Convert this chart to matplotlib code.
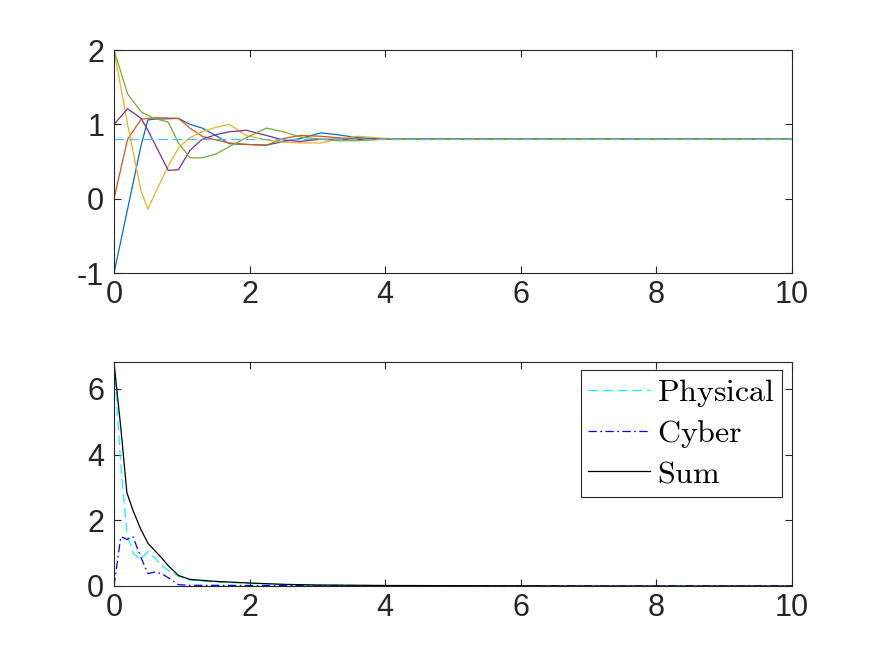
import matplotlib
matplotlib.use("Agg")
import matplotlib.pyplot as plt

# ---------------- data ----------------
# top panel: consensus trajectories of five agents
t_top = [0, 0.2, 0.4, 0.5, 0.6, 0.8, 0.95, 1.12, 1.3, 1.5, 1.7, 1.95, 2.25,
         2.5, 2.75, 3.05, 3.3, 3.6, 4.0, 4.5, 5, 6, 7, 8, 9, 10]
agent_blue = [-1, -0.14, 0.72, 1.06, 1.07, 1.075, 1.08, 1.0, 0.95, 0.85, 0.74,
              0.73, 0.72, 0.77, 0.81, 0.885, 0.86, 0.82, 0.80, 0.8, 0.8, 0.8,
              0.8, 0.8, 0.8, 0.8]
agent_red = [0, 0.8, 1.07, 1.08, 1.09, 1.085, 1.08, 0.95, 0.84, 0.79, 0.75,
             0.73, 0.72, 0.81, 0.85, 0.84, 0.82, 0.80, 0.80, 0.8, 0.8, 0.8,
             0.8, 0.8, 0.8, 0.8]
agent_yellow = [2, 1.0, 0.1, -0.14, 0.06, 0.44, 0.68, 0.82, 0.90, 0.96, 1.0,
                0.85, 0.79, 0.76, 0.75, 0.75, 0.80, 0.84, 0.81, 0.8, 0.8, 0.8,
                0.8, 0.8, 0.8, 0.8]
agent_purple = [1.0, 1.21, 1.08, 0.92, 0.74, 0.38, 0.39, 0.65, 0.80, 0.86, 0.90,
                0.92, 0.85, 0.79, 0.77, 0.80, 0.80, 0.80, 0.80, 0.8, 0.8, 0.8,
                0.8, 0.8, 0.8, 0.8]
agent_green = [2, 1.41, 1.17, 1.12, 1.08, 1.03, 0.75, 0.55, 0.55, 0.60, 0.70,
               0.82, 0.95, 0.90, 0.83, 0.80, 0.78, 0.78, 0.80, 0.8, 0.8, 0.8,
               0.8, 0.8, 0.8, 0.8]
consensus_value = 0.8

# bottom panel: energy-like quantities
t_bot = [0, 0.1, 0.19, 0.28, 0.39, 0.5, 0.6, 0.7, 0.8, 0.95, 1.12, 1.5, 2.0,
         2.5, 3.0, 4.0, 5, 6, 7, 8, 9, 10]
physical = [6.8, 3.7, 1.6, 1.0, 0.8, 1.05, 0.86, 0.62, 0.48, 0.30, 0.18, 0.12,
            0.08, 0.04, 0.025, 0.01, 0.005, 0, 0, 0, 0, 0]
cyber = [0, 1.5, 1.42, 1.5, 0.9, 0.38, 0.42, 0.38, 0.25, 0.04, 0.02, 0.02,
         0.015, 0.01, 0.005, 0, 0, 0, 0, 0, 0, 0]
total = [6.8, 4.82, 2.84, 2.3, 1.75, 1.3, 1.08, 0.86, 0.62, 0.32, 0.20, 0.14,
         0.09, 0.05, 0.03, 0.015, 0.01, 0.005, 0, 0, 0, 0]

legend_labels = ["Physical", "Cyber", "Sum"]
x_ticks = [0, 2, 4, 6, 8, 10]
y_ticks_top = [-1, 0, 1, 2]
y_ticks_bot = [0, 2, 4, 6]

# ---------------- style ----------------
plt.rcParams["font.family"] = ["Liberation Sans", "DejaVu Sans"]
plt.rcParams["mathtext.fontset"] = "cm"
plt.rcParams["lines.scale_dashes"] = False
plt.rcParams["axes.unicode_minus"] = False

axis_col = "#262626"
agent_colors = ["#0072BD", "#D95319", "#EDB120", "#7E2F8E", "#77AC30"]

fig = plt.figure(figsize=(8.75, 6.59), dpi=100)
ax1 = fig.add_axes([0.1303, 0.5857, 0.7749, 0.3384])
ax2 = fig.add_axes([0.1303, 0.1108, 0.7749, 0.3399])


def style_axes(ax):
    for sp in ax.spines.values():
        sp.set_color(axis_col)
        sp.set_linewidth(0.8)
    ax.tick_params(direction="in", length=5, width=0.8, colors=axis_col,
                   labelsize=22, top=True, right=True, pad=5)
    ax.tick_params(axis="y", pad=7)


lw = 0.9
for y, c in zip([agent_blue, agent_red, agent_yellow, agent_purple, agent_green],
                agent_colors):
    ax1.plot(t_top, y, color=c, lw=lw)
ax1.plot([0, 10], [consensus_value, consensus_value], color="#4DBEEE", lw=lw,
         dashes=(7, 3.5))
ax1.set_xlim(0, 10)
ax1.set_ylim(-1, 2)
ax1.set_xticks(x_ticks)
ax1.set_yticks(y_ticks_top)
style_axes(ax1)

h1, = ax2.plot(t_bot, physical, color=(0, 1, 1), lw=lw, dashes=(7, 3.5))
h2, = ax2.plot(t_bot, cyber, color=(0, 0, 1), lw=lw, dashes=(6, 2.5, 1.2, 2.5))
h3, = ax2.plot(t_bot, total, color="black", lw=lw)
ax2.set_xlim(0, 10)
ax2.set_ylim(0, 6.82)
ax2.set_xticks(x_ticks)
ax2.set_yticks(y_ticks_bot)
style_axes(ax2)

leg = ax2.legend([h1, h2, h3],
                 [r"$\mathrm{%s}$" % s for s in legend_labels],
                 loc="upper right", bbox_to_anchor=(0.985, 0.964),
                 borderaxespad=0, fontsize=23, frameon=True, fancybox=False,
                 framealpha=1, edgecolor=axis_col, handlelength=1.95,
                 handletextpad=0.2, borderpad=0.22, labelspacing=0.29)
leg.get_frame().set_linewidth(0.8)

fig.savefig("out.png", dpi=100)
